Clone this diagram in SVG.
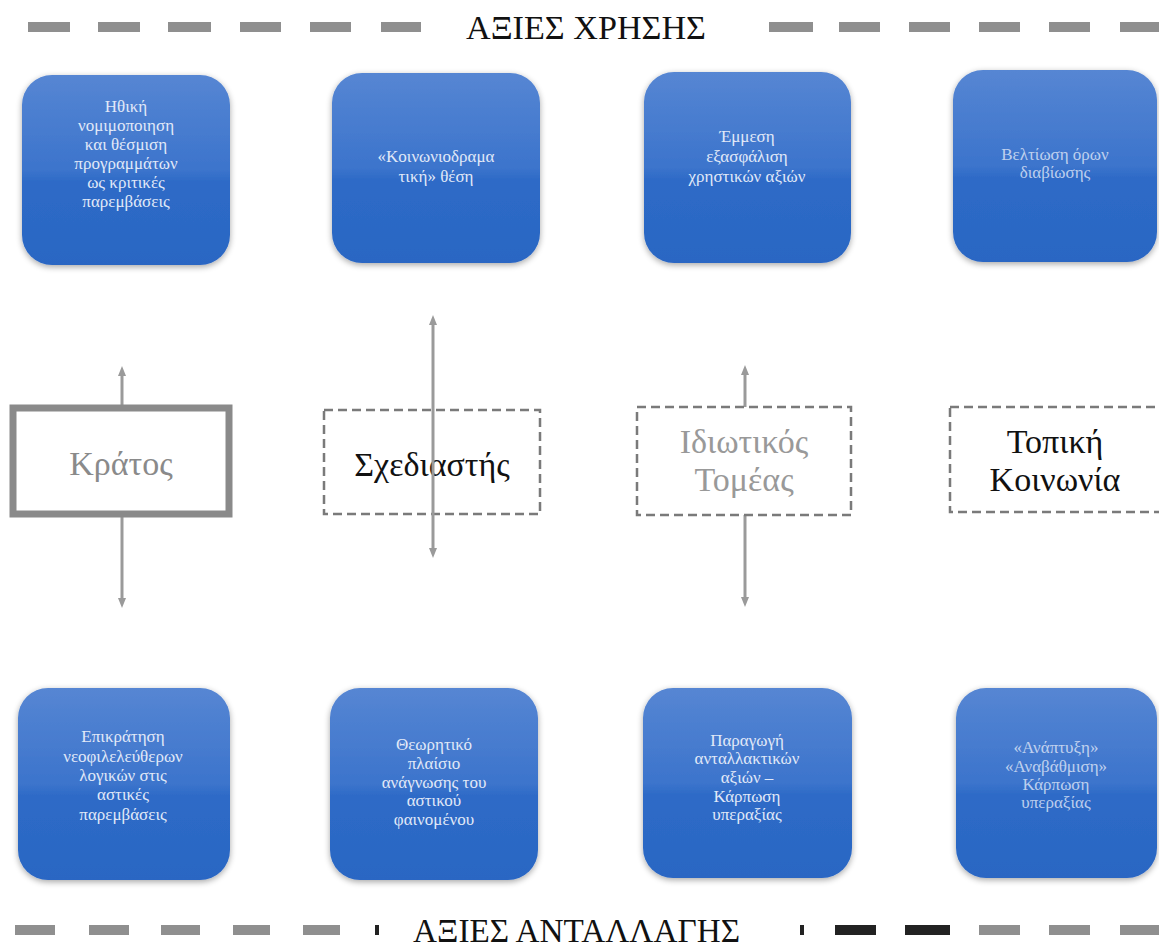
<svg xmlns="http://www.w3.org/2000/svg" width="1159" height="949" viewBox="0 0 1159 949">
<style>
.bt{font-family:"Liberation Serif","DejaVu Serif",serif;font-size:17px;fill:#e1e9f8;text-anchor:middle}
.mt{font-family:"Liberation Serif","DejaVu Serif",serif;font-size:34px;text-anchor:middle}
.hd{font-family:"Liberation Serif","DejaVu Serif",serif;font-size:33px;fill:#111}
.dg{fill:#8f8f8f}
.dk{fill:#222}
.blue{fill:url(#bg);filter:url(#sh)}
.conn{stroke:#9a9a9a;stroke-width:3;fill:none}
.dash{fill:#fff;stroke:#7a7a7a;stroke-width:2.5;stroke-dasharray:9 5}
</style>
<defs>
<linearGradient id="bg" x1="0" y1="0" x2="0" y2="1">
<stop offset="0" stop-color="#5686d3"/>
<stop offset="0.5" stop-color="#3c74cc"/>
<stop offset="0.56" stop-color="#2e6bc7"/>
<stop offset="1" stop-color="#2a66c3"/>
</linearGradient>
<filter id="sh" x="-10%" y="-10%" width="120%" height="120%">
<feGaussianBlur in="SourceAlpha" stdDeviation="3"/>
<feOffset dy="2"/>
<feComponentTransfer><feFuncA type="linear" slope="0.35"/></feComponentTransfer>
<feMerge><feMergeNode/><feMergeNode in="SourceGraphic"/></feMerge>
</filter>
<marker id="ah" markerWidth="10" markerHeight="10" refX="5" refY="5" orient="auto-start-reverse" markerUnits="userSpaceOnUse">
<path d="M0,1 L10,5 L0,9 Z" fill="#9a9a9a"/>
</marker>
</defs>
<rect width="1159" height="949" fill="#fff"/>

<g id="header-top">
<rect class="dg" x="28" y="22" width="42" height="10"/>
<rect class="dg" x="98" y="22" width="42" height="10"/>
<rect class="dg" x="168" y="22" width="43" height="10"/>
<rect class="dg" x="240" y="22" width="41" height="10"/>
<rect class="dg" x="310" y="22" width="41" height="10"/>
<rect class="dg" x="381" y="22" width="40" height="10"/>
<text class="hd" x="466" y="39" textLength="240" lengthAdjust="spacingAndGlyphs">ΑΞΙΕΣ ΧΡΗΣΗΣ</text>
<rect class="dg" x="769" y="22" width="44" height="10"/>
<rect class="dg" x="839" y="22" width="41" height="10"/>
<rect class="dg" x="909" y="22" width="41" height="10"/>
<rect class="dg" x="979" y="22" width="41" height="10"/>
<rect class="dg" x="1049" y="22" width="41" height="10"/>
<rect class="dg" x="1120" y="22" width="39" height="10"/>
</g>

<g id="connectors">
<line class="conn" x1="122" y1="405" x2="122" y2="371" marker-end="url(#ah)"/>
<line class="conn" x1="122" y1="517" x2="122" y2="603" marker-end="url(#ah)"/>
<line class="conn" x1="745" y1="407" x2="745" y2="370" marker-end="url(#ah)"/>
<line class="conn" x1="745" y1="515" x2="745" y2="602" marker-end="url(#ah)"/>
</g>

<g id="n-top1"><rect class="blue" x="22" y="75" width="208" height="190" rx="30"/>
<text class="bt"><tspan x="126" y="112">Ηθική</tspan><tspan x="126" y="131">νομιμοποιηση</tspan><tspan x="126" y="150">και θέσμιση</tspan><tspan x="126" y="169">προγραμμάτων</tspan><tspan x="126" y="188">ως κριτικές</tspan><tspan x="126" y="207">παρεμβάσεις</tspan></text></g>
<g id="n-top2"><rect class="blue" x="332" y="73" width="208" height="190" rx="30"/>
<text class="bt"><tspan x="436" y="162">«Κοινωνιοδραμα</tspan><tspan x="436" y="182">τική» θέση</tspan></text></g>
<g id="n-top3"><rect class="blue" x="644" y="72" width="207" height="191" rx="30"/>
<text class="bt"><tspan x="747" y="142">Έμμεση</tspan><tspan x="747" y="162">εξασφάλιση</tspan><tspan x="747" y="182">χρηστικών αξιών</tspan></text></g>
<g id="n-top4"><rect class="blue" x="953" y="70" width="204" height="192" rx="30"/>
<text class="bt" fill-opacity="0.8"><tspan x="1055" y="160">Βελτίωση όρων</tspan><tspan x="1055" y="178">διαβίωσης</tspan></text></g>

<g id="n-kratos"><rect x="13" y="408" width="216" height="106" fill="#fff" stroke="#8a8a8a" stroke-width="7"/>
<text class="mt" x="121" y="475" fill="#8a8a8a">Κράτος</text></g>
<g id="n-sxediastis"><rect class="dash" x="324" y="410" width="216" height="104"/>
<text class="mt" x="432" y="476" fill="#111">Σχεδιαστής</text>
<line class="conn" x1="433" y1="553" x2="433" y2="320" marker-start="url(#ah)" marker-end="url(#ah)"/></g>
<g id="n-idiotikos"><rect class="dash" x="637" y="407" width="214" height="108"/>
<text class="mt" fill="#999"><tspan x="744" y="453">Ιδιωτικός</tspan><tspan x="744" y="491">Τομέας</tspan></text></g>
<g id="n-topiki"><rect class="dash" x="950" y="407" width="215" height="105"/>
<text class="mt" fill="#111"><tspan x="1055" y="453">Τοπική</tspan><tspan x="1055" y="491">Κοινωνία</tspan></text></g>

<g id="n-bot1"><rect class="blue" x="18" y="688" width="212" height="192" rx="30"/>
<text class="bt"><tspan x="123" y="742">Επικράτηση</tspan><tspan x="123" y="762">νεοφιλελεύθερων</tspan><tspan x="123" y="781">λογικών στις</tspan><tspan x="123" y="800">αστικές</tspan><tspan x="123" y="820">παρεμβάσεις</tspan></text></g>
<g id="n-bot2"><rect class="blue" x="330" y="688" width="208" height="192" rx="30"/>
<text class="bt"><tspan x="434" y="750">Θεωρητικό</tspan><tspan x="434" y="769">πλαίσιο</tspan><tspan x="434" y="788">ανάγνωσης του</tspan><tspan x="434" y="806">αστικού</tspan><tspan x="434" y="825">φαινομένου</tspan></text></g>
<g id="n-bot3"><rect class="blue" x="643" y="688" width="209" height="190" rx="30"/>
<text class="bt"><tspan x="747" y="746">Παραγωγή</tspan><tspan x="747" y="764">ανταλλακτικών</tspan><tspan x="747" y="783">αξιών –</tspan><tspan x="747" y="802">Κάρπωση</tspan><tspan x="747" y="820">υπεραξίας</tspan></text></g>
<g id="n-bot4"><rect class="blue" x="956" y="688" width="201" height="190" rx="30"/>
<text class="bt" fill-opacity="0.8"><tspan x="1056" y="753">«Ανάπτυξη»</tspan><tspan x="1056" y="772">«Αναβάθμιση»</tspan><tspan x="1056" y="790">Κάρπωση</tspan><tspan x="1056" y="808">υπεραξίας</tspan></text></g>

<g id="header-bottom">
<rect class="dg" x="15" y="925" width="40" height="10"/>
<rect class="dg" x="89" y="925" width="40" height="10"/>
<rect class="dg" x="161" y="925" width="39" height="10"/>
<rect class="dg" x="233" y="925" width="37" height="10"/>
<rect class="dg" x="303" y="925" width="37" height="10"/>
<rect class="dk" x="375" y="925" width="4" height="10"/>
<text class="hd" x="413" y="942" textLength="327" lengthAdjust="spacingAndGlyphs">ΑΞΙΕΣ ΑΝΤΑΛΛΑΓΗΣ</text>
<rect class="dk" x="800" y="925" width="4" height="10"/>
<rect class="dk" x="835" y="925" width="41" height="10"/>
<rect class="dk" x="905" y="925" width="45" height="10"/>
<rect class="dg" x="979" y="925" width="41" height="10"/>
<rect class="dg" x="1049" y="925" width="41" height="10"/>
<rect class="dg" x="1120" y="925" width="39" height="10"/>
</g>
</svg>
